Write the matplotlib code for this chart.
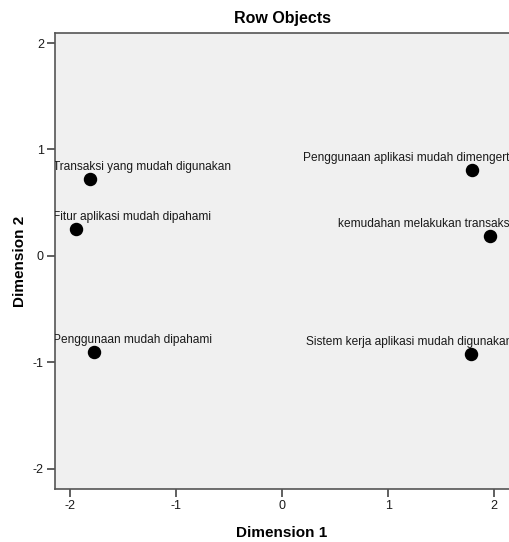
import matplotlib.pyplot as plt
from matplotlib.transforms import offset_copy

# row object coordinates
labels = [
    'Transaksi yang mudah digunakan',
    'Fitur aplikasi mudah dipahami',
    'Penggunaan mudah dipahami',
    'Penggunaan aplikasi mudah dimengerti',
    'kemudahan melakukan transaksi',
    'Sistem kerja aplikasi mudah digunakan',
]
dim1 = [-1.81, -1.94, -1.77, 1.79, 1.96, 1.78]
dim2 = [0.72, 0.25, -0.90, 0.81, 0.19, -0.92]
ticks = [-2, -1, 0, 1, 2]

plt.rcParams['font.family'] = ['Liberation Sans', 'DejaVu Sans']
plt.rcParams['axes.unicode_minus'] = False

fig = plt.figure(figsize=(5.09, 5.42), dpi=100)
ax = fig.add_axes([55 / 509, 1 - 489 / 542, 1 - 55 / 509, (489 - 33) / 542])
ax.set_facecolor('#f0f0f0')

ax.scatter(dim1, dim2, s=75, color='black', zorder=3)

# labels sit above each point, pushed inside the plot area
for name, x, y in zip(labels, dim1, dim2):
    tr = offset_copy(ax.transData, fig=fig, x=0, y=12, units='dots')
    if x < 0:
        t = ax.text(-2.16, y, name, ha='left', va='center', fontsize=8.6,
                    color='#1a1a1a', transform=tr)
    else:
        t = ax.text(2.17, y, name, ha='right', va='center', fontsize=8.6,
                    color='#1a1a1a', transform=tr)
    t.set_clip_on(True)

ax.set_xlim(-2.14, 2.14)
ax.set_ylim(-2.19, 2.094)
ax.set_xticks(ticks)
ax.set_yticks(ticks)
ax.tick_params(direction='out', length=6, width=1.2, color='#444444',
               labelsize=9, pad=2, labelcolor='#1a1a1a')
for side in ['left', 'bottom', 'top']:
    ax.spines[side].set_color('#555555')
    ax.spines[side].set_linewidth(1.2)
ax.spines['right'].set_visible(False)

ax.set_title('Row Objects', fontsize=11.5, fontweight='bold', pad=7)
ax.set_xlabel('Dimension 1', fontsize=11, fontweight='bold', labelpad=10)
ax.set_ylabel('Dimension 2', fontsize=11, fontweight='bold', labelpad=4)

plt.savefig('out.png', dpi=100)
plt.close()
